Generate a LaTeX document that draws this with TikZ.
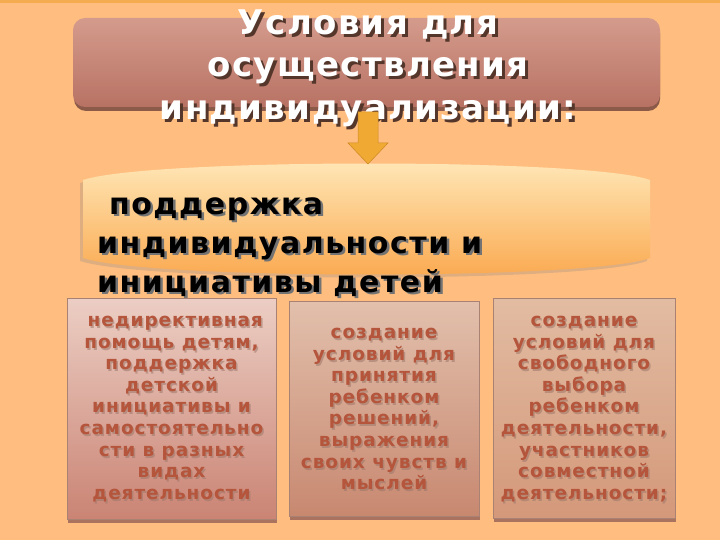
\documentclass[tikz,border=0pt]{standalone}
\usepackage{fontspec}
\setmainfont{DejaVu Sans}
\usetikzlibrary{calc}
\definecolor{bg}{RGB}{255,190,128}
\definecolor{topline}{RGB}{245,172,80}
\definecolor{titletop}{RGB}{212,155,140}
\definecolor{titlebot}{RGB}{184,114,100}
\definecolor{titleshadow}{RGB}{140,90,72}
\definecolor{midtop}{RGB}{255,232,185}
\definecolor{midbot}{RGB}{250,168,78}
\definecolor{arrowfill}{RGB}{240,170,52}
\definecolor{arrowline}{RGB}{205,135,35}
\definecolor{boxtext}{RGB}{180,85,60}
\definecolor{boxedge}{RGB}{170,130,115}
\definecolor{boxshadow}{RGB}{170,115,95}
\definecolor{b1top}{RGB}{236,206,196}
\definecolor{b1bot}{RGB}{202,132,116}
\definecolor{b2top}{RGB}{226,192,172}
\definecolor{b2bot}{RGB}{200,136,112}
\definecolor{b3top}{RGB}{226,188,162}
\definecolor{b3bot}{RGB}{212,152,122}
\tikzset{
  titletext/.style={font=\bfseries\fontsize{34}{42.5}\selectfont\addfontfeatures{LetterSpace=4}, align=center, inner sep=0pt},
  midtext/.style={font=\bfseries\fontsize{30}{39}\selectfont\addfontfeatures{LetterSpace=5}, align=left, inner sep=0pt, anchor=north west},
  boxtxt/.style={font=\bfseries\fontsize{18.5}{21.6}\selectfont\addfontfeatures{LetterSpace=5}, align=center, inner sep=0pt, text=boxtext},
  boxtxtshadow/.style={boxtxt, text=boxshadow!70!gray, opacity=0.55},
  panel/.style={draw=boxedge, line width=0.6pt, inner sep=0pt},
}
\begin{document}
\begin{tikzpicture}[x=1pt,y=-1pt]
\useasboundingbox (0,0) rectangle (720,540);
\fill[bg] (0,0) rectangle (720,540);
\fill[topline] (0,0) rectangle (720,3);

% title box
\fill[titleshadow, rounded corners=12pt] (74,21) rectangle (660,111);
\shade[top color=titletop, bottom color=titlebot, rounded corners=12pt] (73,18) rectangle (660,107);
\node[titletext, text=titleshadow!60!black] at (371,71) {Условия для\\осуществления\\индивидуализации:};
\node[titletext, text=white] (title) at (368,68) {Условия для\\осуществления\\индивидуализации:};

% middle shape
\fill[gray, opacity=0.25] (80,183) .. controls (147,161) and (587,161) .. (647,183) -- (647,261) .. controls (587,283) and (147,283) .. (80,261) -- cycle;
\shade[top color=midtop, bottom color=midbot] (83,180) .. controls (150,158) and (590,158) .. (650,180) -- (650,258) .. controls (590,280) and (150,280) .. (83,258) -- cycle;
\coordinate (midtop) at (368,164);
\node[midtext, text=black!55] at (99.5,199.5) {\ поддержка\\индивидуальности и\\инициативы детей};
\node[midtext, text=black] (support) at (97,197) {\ поддержка\\индивидуальности и\\инициативы детей};

% arrow from title to support
\coordinate (arrowtop) at (368,112);
\fill[arrowfill, draw=arrowline, line width=0.5pt]
  ($(arrowtop)+(-10,0)$) -- ($(arrowtop)+(10,0)$) -- ($(arrowtop)+(10,31)$) -- ($(arrowtop)+(20,31)$)
  -- (midtop) -- ($(arrowtop)+(-20,31)$) -- ($(arrowtop)+(-10,31)$) -- cycle;

% boxes
\fill[boxshadow] (68,301) rectangle (277,523);
\shade[top color=b1top, bottom color=b1bot, panel] (67,298) rectangle (276,519);
\fill[boxshadow] (290,304) rectangle (480,520);
\shade[top color=b2top, bottom color=b2bot, panel] (289,301) rectangle (479,516);
\fill[boxshadow] (494,301) rectangle (676,522);
\shade[top color=b3top, bottom color=b3bot, panel] (493,298) rectangle (675,518);
\coordinate (box1) at (171.5,409);
\coordinate (box2) at (384,409);
\coordinate (box3) at (584,409);

\node[boxtxtshadow] at ($(box1)+(1.5,2)$) {\ недирективная\\помощь детям,\\поддержка\\детской\\инициативы и\\самостоятельно\\сти в разных\\видах\\деятельности};
\node[boxtxt] (t1) at (box1) {\ недирективная\\помощь детям,\\поддержка\\детской\\инициативы и\\самостоятельно\\сти в разных\\видах\\деятельности};
\node[boxtxtshadow] at ($(box2)+(1.5,2)$) {создание\\условий для\\принятия\\ребенком\\решений,\\выражения\\своих чувств и\\мыслей};
\node[boxtxt] (t2) at (box2) {создание\\условий для\\принятия\\ребенком\\решений,\\выражения\\своих чувств и\\мыслей};
\node[boxtxtshadow] at ($(box3)+(1.5,2)$) {создание\\условий для\\свободного\\выбора\\ребенком\\деятельности,\\участников\\совместной\\деятельности;};
\node[boxtxt] (t3) at (box3) {создание\\условий для\\свободного\\выбора\\ребенком\\деятельности,\\участников\\совместной\\деятельности;};
\end{tikzpicture}
\end{document}
